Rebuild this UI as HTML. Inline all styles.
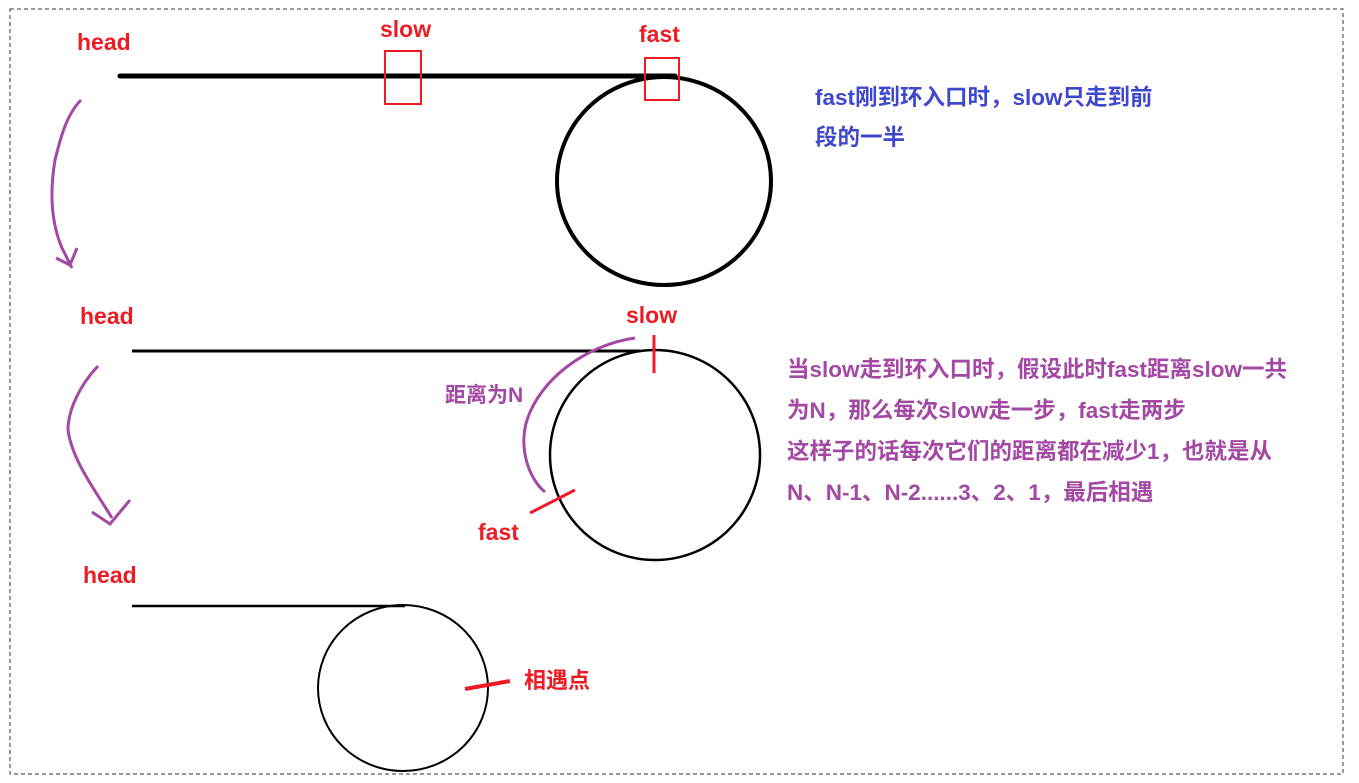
<!DOCTYPE html>
<html><head><meta charset="utf-8"><style>
html,body{margin:0;padding:0;background:#fff;width:1359px;height:783px;overflow:hidden}
svg text{font-family:"Liberation Sans","Noto Sans CJK SC",sans-serif;font-weight:bold}
</style></head><body>
<svg width="1359" height="783" viewBox="0 0 1359 783">
<rect x="10" y="9" width="1333" height="765" fill="none" stroke="#333" stroke-width="1" stroke-dasharray="4,3"/>
<g>
<text x="77" y="50" fill="#ed1c24" font-size="23">head</text>
<line x1="120" y1="76" x2="675" y2="76" stroke="#000" stroke-width="5" stroke-linecap="round"/>
<ellipse cx="664" cy="181" rx="107" ry="104" fill="none" stroke="#000" stroke-width="4"/>
<text x="380" y="37" fill="#ed1c24" font-size="23">slow</text>
<rect x="385" y="51" width="36" height="53" fill="none" stroke="#ed1c24" stroke-width="2"/>
<text x="639" y="42" fill="#ed1c24" font-size="23">fast</text>
<rect x="645" y="58" width="34" height="42" fill="none" stroke="#ed1c24" stroke-width="2"/>
<path d="M81 100 C66 115 60 140 55 160 C50 190 50 220 62 248 L72 268 M56 258 L70 265 L77 248" fill="none" stroke="#a349a4" stroke-width="3"/>
<text x="815" y="105" fill="#3f48cc" font-size="22.5">fast刚到环入口时，slow只走到前</text>
<text x="815" y="145" fill="#3f48cc" font-size="22.5">段的一半</text>
</g>
<g>
<text x="80" y="324" fill="#ed1c24" font-size="23">head</text>
<line x1="132" y1="351" x2="640" y2="351" stroke="#000" stroke-width="3"/>
<circle cx="655" cy="455" r="105" fill="none" stroke="#000" stroke-width="2.5"/>
<path d="M98 366 C80 385 68 410 68 430 C72 460 95 490 112 518 M92 512 L110 524 L130 500" fill="none" stroke="#a349a4" stroke-width="3"/>
<text x="626" y="323" fill="#ed1c24" font-size="23">slow</text>
<line x1="654" y1="335" x2="654" y2="373" stroke="#ed1c24" stroke-width="3"/>
<path d="M635 338 C585 345 540 380 527 420 C518 450 530 480 545 492" fill="none" stroke="#a349a4" stroke-width="3"/>
<text x="445" y="402" fill="#a349a4" font-size="21">距离为N</text>
<line x1="530" y1="513" x2="575" y2="490" stroke="#ed1c24" stroke-width="3"/>
<text x="478" y="540" fill="#ed1c24" font-size="23">fast</text>
<text x="787" y="377" fill="#a349a4" font-size="22.5">当slow走到环入口时，假设此时fast距离slow一共</text>
<text x="787" y="418" fill="#a349a4" font-size="22.5">为N，那么每次slow走一步，fast走两步</text>
<text x="787" y="459" fill="#a349a4" font-size="22.5">这样子的话每次它们的距离都在减少1，也就是从</text>
<text x="787" y="500" fill="#a349a4" font-size="22.5">N、N-1、N-2......3、2、1，最后相遇</text>
</g>
<g>
<text x="83" y="583" fill="#ed1c24" font-size="23">head</text>
<line x1="132" y1="606" x2="405" y2="606" stroke="#000" stroke-width="2.5"/>
<ellipse cx="403" cy="688" rx="85" ry="83" fill="none" stroke="#000" stroke-width="2"/>
<line x1="465" y1="689" x2="510" y2="681" stroke="#ed1c24" stroke-width="4"/>
<text x="524" y="688" fill="#ed1c24" font-size="22">相遇点</text>
</g>
</svg>
</body></html>
